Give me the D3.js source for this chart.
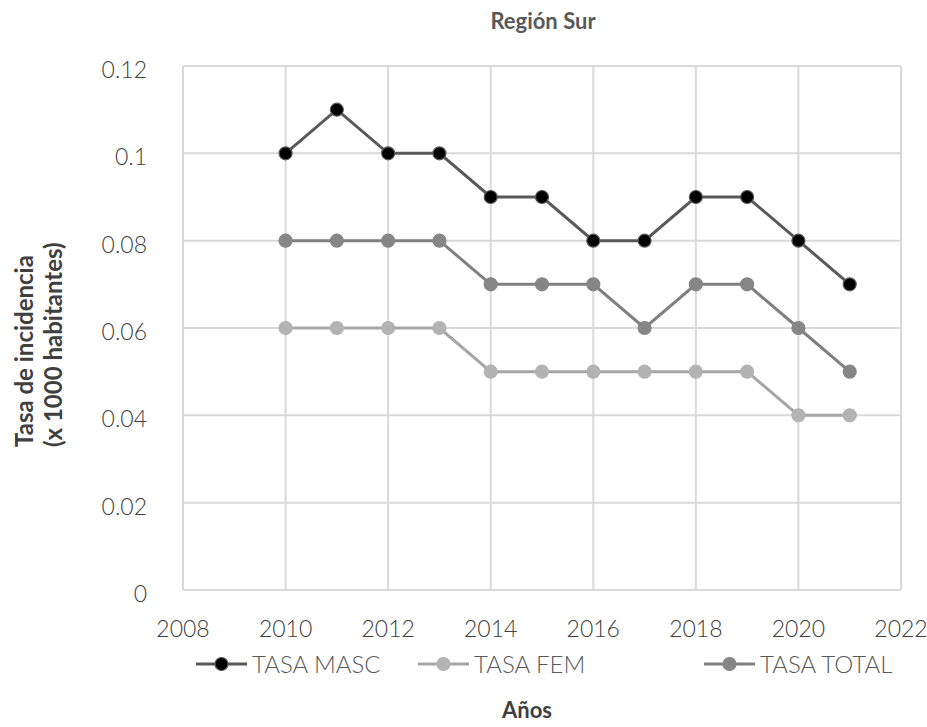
<!DOCTYPE html>
<html>
<head>
<meta charset="utf-8">
<script src="https://cdn.jsdelivr.net/npm/d3@7"></script>
<style>
  body { margin: 0; background: #fff; }
  svg { display: block; }
</style>
</head>
<body>
<svg id="chart" width="927" height="727"></svg>
<script>
// values
var years = [2010, 2011, 2012, 2013, 2014, 2015, 2016, 2017, 2018, 2019, 2020, 2021];
var tasaMasc = [0.10, 0.11, 0.10, 0.10, 0.09, 0.09, 0.08, 0.08, 0.09, 0.09, 0.08, 0.07];
var tasaFem = [0.06, 0.06, 0.06, 0.06, 0.05, 0.05, 0.05, 0.05, 0.05, 0.05, 0.04, 0.04];
var tasaTotal = [0.08, 0.08, 0.08, 0.08, 0.07, 0.07, 0.07, 0.06, 0.07, 0.07, 0.06, 0.05];
var xTicks = [2008, 2010, 2012, 2014, 2016, 2018, 2020, 2022];
var yTicks = [0, 0.02, 0.04, 0.06, 0.08, 0.1, 0.12];

var series = [
    {name: "TASA MASC", values: tasaMasc, line: "#595959", fill: "#000", stroke: "#595959"},
    {name: "TASA FEM", values: tasaFem, line: "#a6a6a6", fill: "#b3b3b3", stroke: "#b3b3b3"},
    {name: "TASA TOTAL", values: tasaTotal, line: "#808080", fill: "#868686", stroke: "#868686"}
];

var svg = d3.select("#chart");
// plot box (don't call it "top", that clashes with window.top)
var plotL = 183, plotR = 901, plotT = 66, plotB = 590;

var x = d3.scaleLinear().domain([2008, 2022]).range([plotL, plotR]);
var y = d3.scaleLinear().domain([0, 0.12]).range([plotB, plotT]);

var tickFont = "Lato, 'Open Sans', sans-serif";

// grid
svg.append("g").selectAll("line")
    .data(yTicks)
    .enter().append("line")
    .attr("x1", plotL).attr("x2", plotR)
    .attr("y1", function(d) { return y(d); })
    .attr("y2", function(d) { return y(d); })
    .attr("stroke", "#d9d9d9")
    .attr("stroke-width", 2);
svg.append("g").selectAll("line")
    .data(xTicks)
    .enter().append("line")
    .attr("y1", plotT).attr("y2", plotB)
    .attr("x1", function(d) { return x(d); })
    .attr("x2", function(d) { return x(d); })
    .attr("stroke", "#d9d9d9")
    .attr("stroke-width", 2);

// tick labels
svg.append("g").selectAll("text")
    .data(yTicks)
    .enter().append("text")
    .attr("x", 147)
    .attr("y", function(d) { return y(d) + 12; })
    .attr("text-anchor", "end")
    .style("font-family", tickFont)
    .style("font-weight", 300)
    .style("font-size", "23px")
    .style("fill", "#404040")
    .text(function(d) { return d; });
svg.append("g").selectAll("text")
    .data(xTicks)
    .enter().append("text")
    .attr("x", function(d) { return x(d); })
    .attr("y", 637)
    .attr("text-anchor", "middle")
    .style("font-family", tickFont)
    .style("font-weight", 300)
    .style("font-size", "23px")
    .style("fill", "#404040")
    .text(function(d) { return d; });

// lines and markers
var line = d3.line()
    .x(function(d, i) { return x(years[i]); })
    .y(function(d) { return y(d); });

series.forEach(function(s) {
    svg.append("path")
        .datum(s.values)
        .attr("d", line)
        .attr("fill", "none")
        .attr("stroke", s.line)
        .attr("stroke-width", 3);
    svg.append("g").selectAll("circle")
        .data(s.values)
        .enter().append("circle")
        .attr("cx", function(d, i) { return x(years[i]); })
        .attr("cy", function(d) { return y(d); })
        .attr("r", 6.5)
        .attr("fill", s.fill)
        .attr("stroke", s.stroke)
        .attr("stroke-width", 1.2);
});

// legend
var legendX = [196, 418, 704];
var leg = svg.append("g").selectAll("g")
    .data(series)
    .enter().append("g")
    .attr("transform", function(d, i) { return "translate(" + legendX[i] + ",664)"; });
leg.append("line")
    .attr("x1", 0).attr("x2", 51)
    .attr("stroke", function(d) { return d.line; })
    .attr("stroke-width", 3);
leg.append("circle")
    .attr("cx", 25.5)
    .attr("r", 6.5)
    .attr("fill", function(d) { return d.fill; })
    .attr("stroke", function(d) { return d.stroke; })
    .attr("stroke-width", 1.2);
leg.append("text")
    .attr("x", 56)
    .attr("y", 9)
    .style("font-family", tickFont)
    .style("font-weight", 300)
    .style("font-size", "24px")
    .style("fill", "#595959")
    .text(function(d) { return d.name; });

// titles
svg.append("text")
    .attr("x", 543).attr("y", 29)
    .attr("text-anchor", "middle")
    .style("font-family", "Lato, sans-serif")
    .style("font-weight", 700)
    .style("font-size", "22px")
    .style("fill", "#595959")
    .text("Región Sur");
svg.append("text")
    .attr("x", 527).attr("y", 718)
    .attr("text-anchor", "middle")
    .style("font-family", "Lato, sans-serif")
    .style("font-weight", 700)
    .style("font-size", "22px")
    .style("fill", "#404040")
    .text("Años");
var yTitle = svg.append("text")
    .attr("transform", "translate(33,447) rotate(-90)")
    .attr("text-anchor", "start")
    .style("font-family", "Lato, sans-serif")
    .style("font-weight", 700)
    .style("font-size", "24px")
    .style("fill", "#404040");
yTitle.append("tspan").attr("x", 0).attr("dy", 0).text("Tasa de incidencia");
yTitle.append("tspan").attr("x", 0).attr("dy", 29).text("(x 1000 habitantes)");
</script>
</body>
</html>
